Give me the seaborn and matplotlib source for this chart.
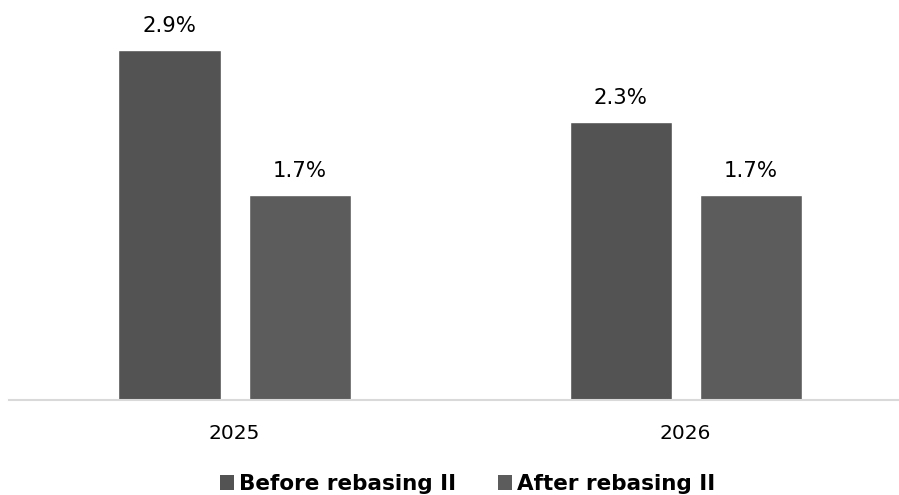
import matplotlib
matplotlib.use("Agg")
import matplotlib.pyplot as plt
import seaborn as sns
import pandas as pd
from matplotlib.patches import Patch

# Data
years = ["2025", "2026"]
series_names = ["Before rebasing II", "After rebasing II"]
before_vals = [2.9, 2.3]
after_vals = [1.7, 1.7]
colors = ["#535353", "#5c5c5c"]

df = pd.DataFrame({
    "year": years * 2,
    "series": [series_names[0]] * len(years) + [series_names[1]] * len(years),
    "value": before_vals + after_vals,
})

sns.set_theme(style="white")
plt.rcParams["font.family"] = ["DejaVu Sans"]

fig = plt.figure(figsize=(8.99, 4.95), dpi=100)
ax = fig.add_axes([9 / 899, 95 / 495, 890 / 899, 380 / 495])

sns.barplot(
    data=df, x="year", y="value", hue="series",
    order=years, hue_order=series_names, palette=colors,
    width=0.5765, gap=0.215, saturation=1, errorbar=None,
    legend=False, ax=ax,
)

for container in ax.containers:
    ax.bar_label(container, labels=[f"{v:.1f}%" for v in container.datavalues],
                 padding=10, fontsize=15.3, color="#000000")

ax.set_xlim(-0.5, 1.473)
ax.set_ylim(0, 3.148)
ax.set_xlabel("")
ax.set_ylabel("")
ax.set_yticks([])
ax.tick_params(axis="x", length=0, pad=17.5, labelsize=14.5, labelcolor="#000000")
for side in ["top", "left", "right"]:
    ax.spines[side].set_visible(False)
ax.spines["bottom"].set_color("#d9d9d9")
ax.spines["bottom"].set_linewidth(1.5)
ax.grid(False)

handles = [Patch(facecolor=c, edgecolor="none") for c in colors]
fig.legend(
    handles, series_names, loc="center", bbox_to_anchor=(467.5 / 899, 1 - 484 / 495),
    ncol=2, frameon=False, prop={"weight": "bold", "size": 15.5},
    labelcolor="#000000",
    handlelength=0.65, handleheight=0.65, handletextpad=0.24, columnspacing=1.95,
    borderaxespad=0, borderpad=0,
)

fig.savefig("out.png", dpi=100)
